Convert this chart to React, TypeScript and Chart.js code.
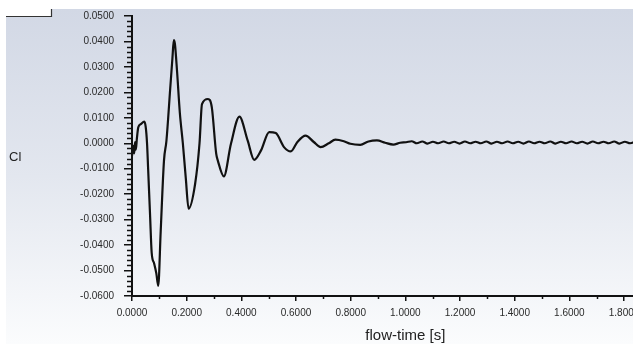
import React, { useEffect, useRef } from "react";
import { Chart, registerables } from "chart.js";

Chart.register(...registerables);

// ---- data ----
const flowTime = [
  0.000, 0.004, 0.008, 0.011, 0.014, 0.018, 0.023, 0.032, 0.045, 0.050,
  0.055, 0.059, 0.066, 0.072, 0.081, 0.089, 0.096, 0.105, 0.117, 0.126,
  0.140, 0.148, 0.153, 0.157, 0.165, 0.175, 0.186, 0.197, 0.207, 0.231,
  0.247, 0.256, 0.278, 0.292, 0.308, 0.314, 0.336, 0.362, 0.393, 0.423,
  0.447, 0.472, 0.502, 0.526, 0.556, 0.581, 0.605, 0.635, 0.665, 0.690,
  0.720, 0.744, 0.775, 0.799, 0.835, 0.865, 0.896, 0.926, 0.956, 0.981,
  1.003, 1.023,
  1.042, 1.062, 1.081, 1.101, 1.120, 1.140, 1.159, 1.179, 1.198, 1.218,
  1.237, 1.257, 1.276, 1.296, 1.315, 1.335, 1.354, 1.374, 1.393, 1.413,
  1.432, 1.452, 1.471, 1.491, 1.510, 1.530, 1.549, 1.569, 1.588, 1.608,
  1.627, 1.647, 1.666, 1.686, 1.705, 1.725, 1.744, 1.764, 1.783, 1.803,
  1.822, 1.842,
];

const clValues = [
  -0.0050, -0.0010, -0.0040, 0.0005, -0.0025, 0.0020, 0.0063, 0.0075, 0.0085, 0.0065,
  0.0000, -0.0100, -0.0280, -0.0430, -0.0472, -0.0511, -0.0560, -0.0345, -0.0068, 0.0010,
  0.0218, 0.0336, 0.0405, 0.0390, 0.0280, 0.0120, 0.0000, -0.0140, -0.0257, -0.0159,
  0.0000, 0.0154, 0.0174, 0.0141, -0.0041, -0.0068, -0.0130, -0.0002, 0.0105, 0.0011,
  -0.0065, -0.0028, 0.0044, 0.0040, -0.0015, -0.0032, 0.0005, 0.0030, 0.0005, -0.0015,
  0.0000, 0.0014, 0.0008, -0.0002, -0.0006, 0.0007, 0.0011, 0.0002, -0.0005, 0.0002,
  0.0004, 0.0008,
  0.0000, 0.0007, -0.0001, 0.0006, 0.0000, 0.0007,
  0.0000, 0.0006, -0.0001, 0.0007, 0.0000, 0.0006,
  0.0000, 0.0007, -0.0001, 0.0006, 0.0000, 0.0007,
  0.0000, 0.0006, -0.0001, 0.0007, 0.0000, 0.0006,
  0.0000, 0.0007, -0.0001, 0.0006, 0.0000, 0.0007,
  0.0000, 0.0006, -0.0001, 0.0007, 0.0000, 0.0006,
  0.0000, 0.0007, -0.0001, 0.0006, 0.0000, 0.0007,
];

const xAxisMin = 0;
const xAxisMax = 2.0;
const xMajorStep = 0.2;
const xMinorStep = 0.1;
const yAxisMin = -0.06;
const yAxisMax = 0.05;
const yMajorStep = 0.01;
const yMinorStep = 0.002;
const xTitle = "flow-time [s]";
const yTitle = "Cl";

const FONT = "'Liberation Sans', Arial, sans-serif";

const fmt = (v: number) => (Math.abs(v) < 1e-9 ? 0 : v).toFixed(4);

const decorPlugin = {
  id: "decor",
  beforeDraw(chart: any) {
    const { ctx, width, height } = chart;
    ctx.save();
    ctx.fillStyle = "#ffffff";
    ctx.fillRect(0, 0, width, height);
    const g = ctx.createLinearGradient(0, 9, 0, height);
    g.addColorStop(0, "#d2d8e5");
    g.addColorStop(0.5, "#e3e7ef");
    g.addColorStop(1, "#fbfcfd");
    ctx.fillStyle = g;
    ctx.fillRect(6, 9, width - 6, height - 9);
    // clipped legend box in the corner
    ctx.fillStyle = "#ffffff";
    ctx.fillRect(6, 9, 45, 8);
    ctx.strokeStyle = "#333333";
    ctx.lineWidth = 1.2;
    ctx.beginPath();
    ctx.moveTo(6, 16.5);
    ctx.lineTo(51.5, 16.5);
    ctx.lineTo(51.5, 9);
    ctx.stroke();
    ctx.restore();
  },
  afterDraw(chart: any) {
    const { ctx, chartArea } = chart;
    const xs = chart.scales.x;
    const ys = chart.scales.y;
    ctx.save();
    ctx.strokeStyle = "#111111";
    ctx.lineWidth = 1.5;
    ctx.beginPath();
    const nY = Math.round((yAxisMax - yAxisMin) / yMinorStep);
    for (let i = 0; i <= nY; i++) {
      if (i % Math.round(yMajorStep / yMinorStep) === 0) continue;
      const py = Math.round(ys.getPixelForValue(yAxisMin + i * yMinorStep)) + 0.5;
      ctx.moveTo(chartArea.left - 5, py);
      ctx.lineTo(chartArea.left, py);
    }
    const nX = Math.round((xAxisMax - xAxisMin) / xMinorStep);
    for (let i = 0; i <= nX; i++) {
      if (i % Math.round(xMajorStep / xMinorStep) === 0) continue;
      const px = Math.round(xs.getPixelForValue(xAxisMin + i * xMinorStep)) + 0.5;
      ctx.moveTo(px, chartArea.bottom);
      ctx.lineTo(px, chartArea.bottom + 3);
    }
    ctx.stroke();

    ctx.fillStyle = "#222222";
    ctx.font = `13px ${FONT}`;
    ctx.textAlign = "left";
    ctx.textBaseline = "middle";
    ctx.fillText(yTitle, 9, 157);
    ctx.font = `15px ${FONT}`;
    ctx.textAlign = "center";
    ctx.textBaseline = "alphabetic";
    ctx.fillText(xTitle, (chartArea.left + chartArea.right) / 2, 340);
    ctx.restore();
  },
};

export default function App() {
  const ref = useRef<HTMLCanvasElement | null>(null);

  useEffect(() => {
    if (!ref.current) return;
    const points = flowTime.map((t, i) => ({ x: t, y: clValues[i] }));
    const chart = new Chart(ref.current, {
      type: "line",
      data: {
        datasets: [
          {
            data: points,
            borderColor: "#111111",
            borderWidth: 2.2,
            pointRadius: 0,
            cubicInterpolationMode: "monotone",
            fill: false,
          },
        ],
      },
      options: {
        animation: false,
        responsive: false,
        devicePixelRatio: 1,
        events: [],
        layout: { padding: { left: 0, top: 15, right: 18, bottom: 0 } },
        plugins: { legend: { display: false }, tooltip: { enabled: false } },
        scales: {
          x: {
            type: "linear",
            position: "bottom",
            min: xAxisMin,
            max: xAxisMax,
            afterFit: (s: any) => {
              s.height = 48;
            },
            ticks: {
              stepSize: xMajorStep,
              autoSkip: false,
              maxRotation: 0,
              padding: 6,
              color: "#2a2a2a",
              font: { family: FONT, size: 10 },
              callback: (v: any) => fmt(Number(v)),
            },
            grid: {
              display: true,
              drawOnChartArea: false,
              drawTicks: true,
              tickLength: 5,
              color: "#111111",
              lineWidth: 1.5,
            },
            border: { display: true, color: "#111111", width: 2 },
          },
          y: {
            type: "linear",
            min: yAxisMin,
            max: yAxisMax,
            afterFit: (s: any) => {
              s.width = 132;
            },
            ticks: {
              stepSize: yMajorStep,
              autoSkip: false,
              padding: 10,
              color: "#2a2a2a",
              font: { family: FONT, size: 10 },
              callback: (v: any) => fmt(Number(v)),
            },
            grid: {
              display: true,
              drawOnChartArea: false,
              drawTicks: true,
              tickLength: 8,
              color: "#111111",
              lineWidth: 1.5,
            },
            border: { display: true, color: "#111111", width: 2 },
          },
        },
      },
      plugins: [decorPlugin],
    });
    return () => chart.destroy();
  }, []);

  return (
    <div
      style={{
        position: "fixed",
        left: 0,
        top: 0,
        width: 633,
        height: 344,
        overflow: "hidden",
        background: "#ffffff",
      }}
    >
      <canvas ref={ref} width={700} height={344} style={{ display: "block" }} />
    </div>
  );
}
